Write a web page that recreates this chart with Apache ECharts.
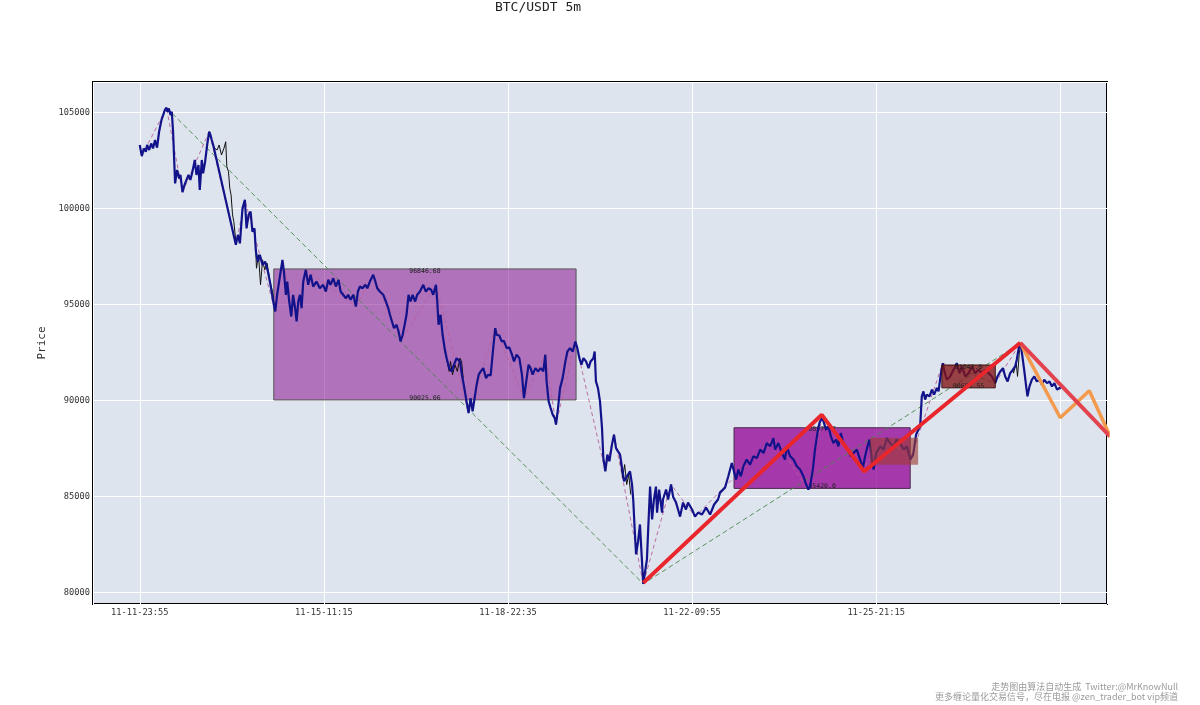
<!DOCTYPE html>
<html><head><meta charset="utf-8">
<script src="https://cdn.jsdelivr.net/npm/echarts@6/dist/echarts.min.js"></script>
<style>html,body{margin:0;padding:0;background:#fff}#c{width:1200px;height:705px}</style>
</head><body><div id="c"></div>
<script>
// ---- tick labels (x axis is the 5m candle index) ----
const tickPositions = [0, 1000, 2000, 3000, 4000];
const tickLabels = ['11-11-23:55', '11-15-11:15', '11-18-22:35', '11-22-09:55', '11-25-21:15'];

// ---- close-price path [candle index, price] ----
const pricePath = [
[0,103300],[11,102720],[22,103120],[33,102950],[40,103300],[51,103040],[62,103380],[72,103120],[83,103560],[94,103160],
[105,103990],[118,104600],[127,104860],[136,105120],[145,105240],[150,105030],[158,105200],[167,104860],[174,105030],
[181,103990],[192,101300],[203,102000],[214,101560],[221,101740],[232,100840],[243,101220],[254,101480],[265,101740],
[275,101480],[286,101910],[299,102520],[308,101740],[319,102260],[326,100960],[337,102520],[344,101820],[355,102430],
[366,103300],[377,103990],[384,103820],[391,103560],[399,103300],[522,98100],[533,98620],[544,98180],[558,100000],
[571,100440],[580,98960],[591,99660],[602,99830],[612,98790],[623,98960],[631,97750],[641,97230],[652,97580],[667,97060],
[681,97230],[696,96710],[710,96020],[725,95150],[736,94630],[746,95500],[757,96190],[768,96880],[775,97320],[783,96710],
[794,95500],[801,96190],[812,95150],[823,94370],[833,95500],[844,94800],[852,94110],[861,95150],[870,95500],[879,94800],
[888,96190],[902,96800],[915,96020],[928,96540],[942,95930],[960,96190],[978,95840],[996,96020],[1011,95670],[1024,96280],
[1036,96020],[1051,96360],[1065,95930],[1080,96280],[1091,95670],[1105,95500],[1120,95320],[1132,95500],[1145,95240],
[1160,95500],[1174,94890],[1185,95670],[1196,95930],[1210,95840],[1225,96020],[1236,95840],[1250,96190],[1268,96540],
[1277,96280],[1290,95840],[1304,95670],[1323,95500],[1337,95150],[1350,94800],[1359,94460],[1370,94110],[1381,93760],
[1395,93940],[1406,93590],[1417,93070],[1428,93420],[1439,93940],[1449,94460],[1460,95500],[1471,95150],[1482,95500],
[1496,95150],[1507,95500],[1522,95670],[1540,96020],[1554,95670],[1569,95840],[1583,95760],[1594,95500],[1609,96020],
[1616,95150],[1623,93940],[1634,94460],[1645,93420],[1656,92720],[1667,92200],[1681,91680],[1694,91510],[1707,91860],
[1721,92200],[1739,92030],[1750,91340],[1763,90640],[1775,89950],[1786,89340],[1797,90120],[1808,89430],[1819,90120],
[1830,90820],[1841,91340],[1852,91510],[1866,91680],[1881,91160],[1893,91340],[1906,91300],[1920,92720],[1931,93760],
[1938,93420],[1953,93380],[1966,93070],[1978,93100],[1993,92720],[2007,92760],[2022,92380],[2033,92030],[2047,92380],
[2062,92200],[2076,91340],[2087,90120],[2102,91160],[2112,91860],[2123,91680],[2134,91340],[2149,91680],[2163,91510],
[2178,91680],[2192,91510],[2203,92380],[2210,90990],[2221,89950],[2232,89600],[2243,89260],[2254,89080],[2261,88740],
[2272,89600],[2283,90640],[2297,91160],[2312,92030],[2323,92550],[2337,92720],[2352,92550],[2366,93070],[2377,92720],
[2388,92200],[2399,91860],[2410,92200],[2424,92030],[2438,91680],[2449,92030],[2464,92200],[2471,92550],[2478,90990],
[2489,90640],[2500,89950],[2511,88560],[2518,87000],[2529,86310],[2540,87180],[2551,86830],[2565,87700],[2576,88220],
[2587,87520],[2598,87350],[2609,87180],[2620,86480],[2631,85790],[2641,85960],[2652,86140],[2663,86310],[2674,85620],
[2681,84750],[2688,83360],[2696,81980],[2707,82670],[2717,83540],[2728,81630],[2735,80450],[2755,81720],[2761,83120],
[2772,85510],[2783,83800],[2793,84840],[2804,85510],[2810,84160],[2821,85360],[2837,84160],[2842,84840],[2859,85360],
[2870,84840],[2886,85620],[2897,84990],[2913,84680],[2924,84320],[2935,83950],[2951,84680],[2967,84320],[2978,84680],
[3000,84320],[3016,83950],[3033,84160],[3054,84060],[3076,84420],[3098,84060],[3120,84580],[3141,84840],[3152,85200],
[3179,85460],[3197,86050],[3216,86740],[3239,85880],[3252,86400],[3265,86050],[3279,86570],[3297,86920],[3315,86660],
[3333,87090],[3352,87000],[3370,87440],[3388,87260],[3406,87780],[3424,87610],[3442,88040],[3451,87440],[3469,87780],
[3488,87260],[3505,86920],[3514,87610],[3533,87090],[3551,86920],[3569,86570],[3587,86400],[3605,86050],[3620,85620],
[3632,85360],[3641,85530],[3656,86400],[3668,87440],[3681,88300],[3692,88830],[3705,89080],[3714,88910],[3728,88480],
[3741,88650],[3754,88130],[3768,87780],[3783,87960],[3795,87610],[3808,88300],[3822,87780],[3837,87610],[3850,87440],
[3862,87090],[3877,87260],[3895,87440],[3913,86920],[3928,86480],[3940,87090],[3953,87610],[3964,87960],[3977,86920],
[3986,86400],[4000,87260],[4022,87610],[4040,87440],[4058,88040],[4076,87780],[4094,87610],[4112,87960],[4130,87780],
[4149,87440],[4167,87610],[4185,86920],[4201,87180],[4217,88220],[4239,88650],[4248,90210],[4257,90470],[4266,90040],
[4275,90300],[4290,90210],[4303,90560],[4315,90300],[4330,90650],[4339,90470],[4352,91420],[4362,91940],[4369,91600],
[4384,91080],[4402,91250],[4420,91600],[4438,91940],[4453,91420],[4466,91770],[4484,91250],[4502,91420],[4520,91770],
[4538,91420],[4556,91600],[4575,91420],[4592,91600],[4611,91420],[4629,91250],[4647,90900],[4659,91250],[4674,91510],
[4689,91680],[4701,91250],[4714,90990],[4728,91420],[4743,91600],[4755,91770],[4764,92120],[4773,92640],[4783,92980],
[4792,92460],[4804,91600],[4815,90730],[4822,90210],[4833,90730],[4846,91080],[4859,91250],[4873,90990],[4888,91080],
[4900,90820],[4913,91080],[4928,90900],[4942,90990],[4955,90730],[4968,90900],[4983,90560],[4997,90650],[5004,90620]
];

// ---- visible candle wicks (black), null separates pieces ----
const wickPath = [
[399,103300],[408,103120],[420,103040],[431,103300],[444,102780],[457,103120],[467,103470],[473,102170],[482,101910],
[489,101040],[496,100700],[504,99660],[511,99310],[522,98270],null,
[623,98960],[627,98440],[634,96880],[645,97580],[656,96020],[667,97320],[679,96800],[692,97140],[707,96190],[721,95670],[732,94800],null,
[1656,92720],[1658,92550],[1670,92030],[1681,91510],[1688,92030],[1699,91340],[1712,91860],[1725,91510],[1739,92200],[1748,92030],[1757,91160],null,
[2609,87180],[2612,86830],[2623,85960],[2634,86660],[2645,85620],[2656,86140],[2667,85100],null,
[4743,91600],[4746,91420],[4761,91940],[4768,91250],[4779,92640]
];

// ---- strokes (bi) ----
const biPoints = [
[11,102720],[145,105240],[232,100840],[377,103990],[522,98100],[571,100440],[736,94630],[775,97320],[852,94110],
[902,96800],[1174,94890],[1268,96540],[1417,93070],[1609,96020],[1786,89340],[1931,93760],[2087,90120],[2203,92380],
[2261,88740],[2366,93070],[2529,86310],[2576,88220],[2735,80450],[2886,85620],[3016,83950],[3442,88040],[3632,85360],
[3705,89080],[3928,86480],[4058,88040],[4185,86920],[4362,91940],[4647,90900],[4783,92980],[4822,90210]
];

// ---- segments ----
const segPoints = [[145,105240],[2735,80450],[4783,92980]];

// ---- trend lines ----
const redPoints = [[2735,80500],[3705,89250],[3935,86300],[4783,93000]];
const redTail = [[4783,93000],[5272,88110]];
const orangePoints = [[4783,93000],[5000,89100],[5158,90500],[5272,88110]];

// ---- pivot boxes (zhongshu) ----
const boxStart = [728, 3228, 3967, 4357];
const boxEnd   = [2370, 4185, 4228, 4647];
const boxLow   = [90025.06, 85420.0, 86656, 90655.55];
const boxHigh  = [96846.68, 88577.7, 88060, 91843.0];
const boxTopText = ['96846.68', '88577.7', '', '91843.0'];
const boxBottomText = ['90025.06', '85420.0', '', '90655.55'];

const boxLook = [
  {fill:'rgba(130,0,135,0.5)', stroke:'#555', lw:1},
  {fill:'rgba(145,0,150,0.75)', stroke:'#4a2a4a', lw:1},
  {fill:'rgba(160,60,50,0.62)', stroke:'rgba(0,0,0,0)', lw:0},
  {fill:'rgba(130,20,20,0.78)', stroke:'#3a1010', lw:1}
];

function boxData(ids) {
  return ids.map(i => [boxStart[i], boxEnd[i], boxLow[i], boxHigh[i], i]);
}
function renderBox(params, api) {
  const i = api.value(4);
  const a = api.coord([api.value(0), api.value(3)]);
  const b = api.coord([api.value(1), api.value(2)]);
  const st = boxLook[i];
  const kids = [{type:'rect', shape:{x:a[0], y:a[1], width:b[0]-a[0], height:b[1]-a[1]},
    style:{fill:st.fill, stroke:st.stroke, lineWidth:st.lw}}];
  const font = '6.5px "DejaVu Sans Mono"';
  if (boxTopText[i]) kids.push({type:'text', x:(a[0]+b[0])/2, y:a[1]+2,
    style:{text:boxTopText[i], align:'center', verticalAlign:'middle', font:font, fill:'#222'}});
  if (boxBottomText[i]) kids.push({type:'text', x:(a[0]+b[0])/2, y:b[1]-2,
    style:{text:boxBottomText[i], align:'center', verticalAlign:'middle', font:font, fill:'#222'}});
  return {type:'group', children:kids};
}

const chart = echarts.init(document.getElementById('c'), null, {renderer:'canvas'});
const monoFont = 'DejaVu Sans Mono';
chart.setOption({
  animation: false,
  backgroundColor: '#fff',
  grid: {left:93, right:93, top:82, bottom:101, show:true, backgroundColor:'#dde4ee', borderColor:'#000', borderWidth:2},
  graphic: [
    {type:'text', x:538, y:8, style:{text:'BTC/USDT 5m', align:'center', verticalAlign:'middle',
      font:'13px "DejaVu Sans Mono"', fill:'#222'}},
    {type:'text', x:1178, y:686.5, style:{text:'走势图由算法自动生成  Twitter:@MrKnowNull', align:'right', verticalAlign:'middle',
      font:'9px "Noto Sans CJK SC"', fill:'#9a9a9a'}},
    {type:'text', x:1178, y:697, style:{text:'更多缠论量化交易信号，尽在电报 @zen_trader_bot vip频道', align:'right', verticalAlign:'middle',
      font:'9px "Noto Sans CJK SC"', fill:'#9a9a9a'}}
  ],
  xAxis: {
    type:'value', min:-254, max:5254, splitNumber:5,
    axisLine:{show:false}, axisTick:{show:false},
    splitLine:{show:true, lineStyle:{color:'#ffffff', width:1}},
    axisLabel:{showMinLabel:false, showMaxLabel:false, margin:4, color:'#333', fontFamily:monoFont, fontSize:8.7,
      formatter: v => { const k = tickPositions.indexOf(v); return k >= 0 ? tickLabels[k] : ''; }}
  },
  yAxis: {
    type:'value', min:79400, max:106580, splitNumber:5, scale:true,
    name:'Price', nameLocation:'middle', nameGap:29, nameRotate:90,
    nameTextStyle:{fontFamily:monoFont, fontSize:11, color:'#333'},
    axisLine:{show:false}, axisTick:{show:false},
    splitLine:{show:true, lineStyle:{color:'#ffffff', width:1}},
    axisLabel:{showMinLabel:false, showMaxLabel:false, margin:3, color:'#333', fontFamily:monoFont, fontSize:8.7,
      formatter: v => String(v)}
  },
  series: [
    {type:'custom', name:'zs-low', z:1, renderItem:renderBox, data:boxData([0,1]), encode:{x:[0,1], y:[2,3]}, silent:true},
    {type:'line', name:'seg', z:2, data:segPoints, symbol:'none', lineStyle:{color:'#4a884a', width:0.9, type:[5,3]}},
    {type:'line', name:'bi', z:3, data:biPoints, symbol:'none', lineStyle:{color:'#b8609a', width:0.9, type:[4,3]}},
    {type:'line', name:'wick', z:4, data:wickPath, symbol:'none', connectNulls:false, lineStyle:{color:'#111', width:1}},
    {type:'line', name:'close', z:5, data:pricePath, symbol:'none', lineStyle:{color:'#12128a', width:2.2, join:'bevel'}},
    {type:'custom', name:'zs-high', z:6, renderItem:renderBox, data:boxData([2,3]), encode:{x:[0,1], y:[2,3]}, silent:true},
    {type:'line', name:'orange', z:7, data:orangePoints, symbol:'none', lineStyle:{color:'#f39a4c', width:3.5}},
    {type:'line', name:'redTail', z:8, data:redTail, symbol:'none', lineStyle:{color:'#e2434e', width:4}},
    {type:'line', name:'red', z:9, data:redPoints, symbol:'none', lineStyle:{color:'#e8262c', width:4}}
  ]
});
</script>
</body></html>
